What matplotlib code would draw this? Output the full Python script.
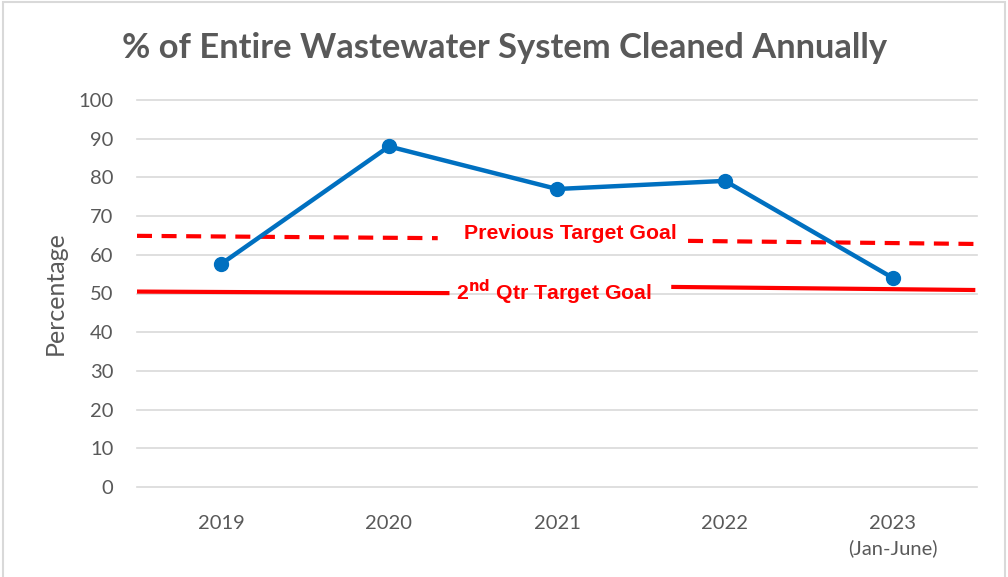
import numpy as np
import matplotlib.pyplot as plt
from matplotlib.patches import Rectangle

# Data
years = ['2019', '2020', '2021', '2022', '2023\n(Jan-June)']
pct_cleaned = [57.6, 88.0, 77.0, 79.1, 54.0]

# target goal lines (drawn in pieces around their labels)
prev_goal_x = [[-0.5, 1.29], [2.78, 4.49]]
prev_goal_y = [[64.9, 64.3], [63.6, 62.8]]
qtr_goal_x = [[-0.5, 1.36], [2.68, 4.49]]
qtr_goal_y = [[50.5, 50.1], [51.7, 50.9]]

plt.rcParams['font.family'] = ['Lato', 'DejaVu Sans']
grey = '#595959'

fig = plt.figure(figsize=(10.08, 5.77), dpi=100)
ax = fig.add_axes([137/1008, 1 - 487/577, 840/1008, 387/577])

x = np.arange(len(years))

# Goal lines
for gx, gy in zip(prev_goal_x, prev_goal_y):
    ax.plot(gx, gy, color='#ff0000', linewidth=3, linestyle=(0, (3.6, 2.3)), zorder=2)
for gx, gy in zip(qtr_goal_x, qtr_goal_y):
    ax.plot(gx, gy, color='#ff0000', linewidth=3, solid_capstyle='butt', zorder=2)

# Main series
ax.plot(x, pct_cleaned, color='#0070c0', linewidth=3.2, marker='o', markersize=10, zorder=3)

ax.text(2.08, 65.6, 'Previous Target Goal', color='#ff0000', fontsize=15.3, fontweight='bold',
        family='Liberation Sans', ha='center', va='center')
ax.text(1.98, 50.4, '2$^{\\mathbf{nd}}$ Qtr Target Goal', color='#ff0000', fontsize=15.3, fontweight='bold',
        family='Liberation Sans', ha='center', va='center')

# Axes styling
ax.set_xlim(-0.5, 4.5)
ax.set_ylim(0, 100)
ax.set_yticks(np.arange(0, 101, 10))
ax.set_xticks(x)
ax.set_xticklabels(years, linespacing=1.5)
ax.tick_params(axis='both', length=0, colors=grey, labelsize=14.5)
ax.tick_params(axis='y', pad=17)
ax.tick_params(axis='x', pad=20)
for s in ax.spines.values():
    s.set_visible(False)
ax.grid(axis='y', color='#d9d9d9', linewidth=1.2)
for gl in ax.get_ygridlines():
    gl.set_clip_on(False)
ax.set_axisbelow(True)

ax.set_ylabel('Percentage', color=grey, fontsize=18, labelpad=8)

fig.text(505/1008, 1 - 48/577, '% of Entire Wastewater System Cleaned Annually',
         color=grey, fontsize=24.8, fontweight='bold', ha='center', va='center')

# outer chart frame
fig.patches.append(Rectangle((3/1008, -0.05), 1002/1008, 1.05 - 2/577, transform=fig.transFigure,
                             fill=False, edgecolor='#d9d9d9', linewidth=1.5))

fig.savefig('out.png', dpi=100, facecolor='white')
